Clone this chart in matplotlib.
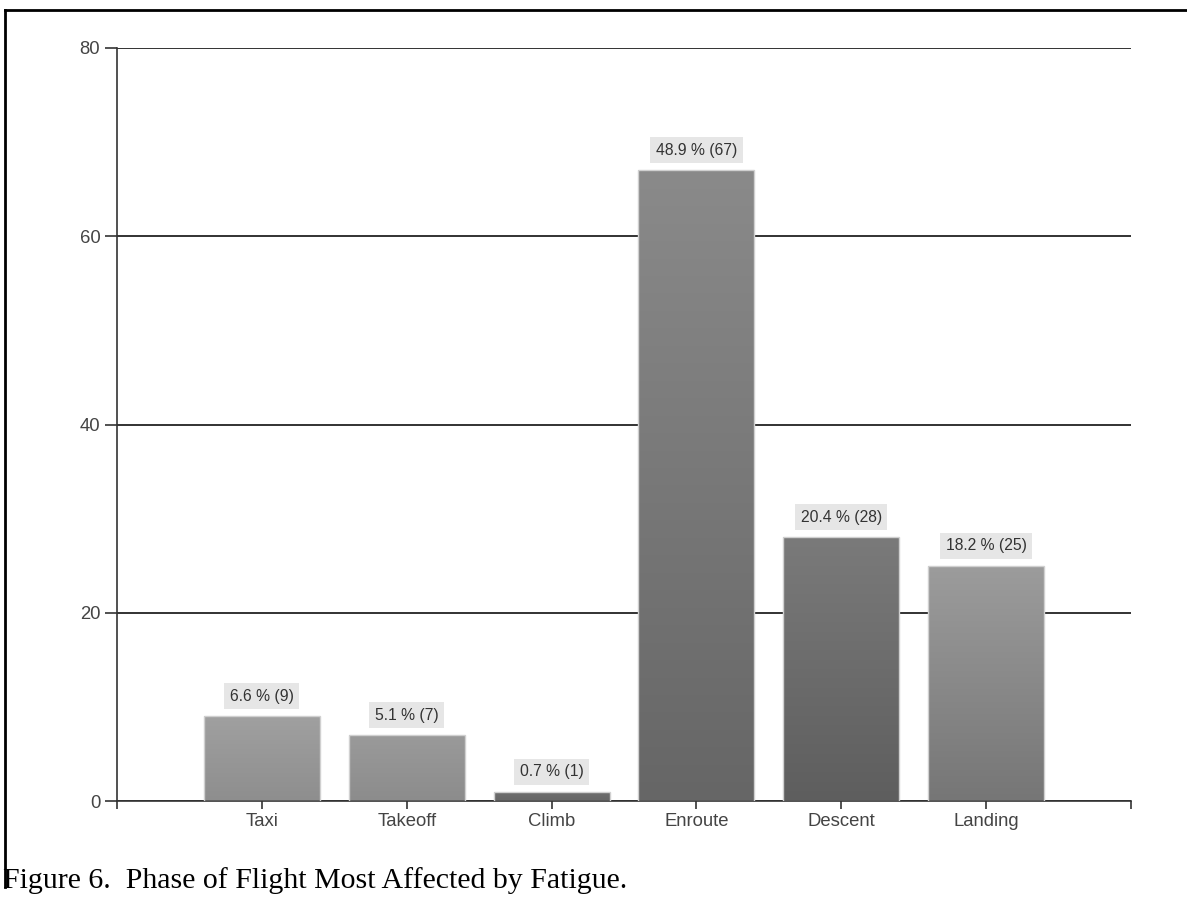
import matplotlib.pyplot as plt
import numpy as np
from matplotlib.lines import Line2D
from matplotlib.colors import LinearSegmentedColormap

phases = ['Taxi', 'Takeoff', 'Climb', 'Enroute', 'Descent', 'Landing']
counts = [9, 7, 1, 67, 28, 25]
percents = [6.6, 5.1, 0.7, 48.9, 20.4, 18.2]
# top / bottom shade of each bar's vertical gradient
top_shades = ['#a0a0a0', '#9a9a9a', '#6e6e6e', '#8a8a8a', '#7a7a7a', '#9c9c9c']
bottom_shades = ['#8e8e8e', '#8c8c8c', '#666666', '#666666', '#5e5e5e', '#767676']

plt.rcParams['font.family'] = ['Liberation Sans', 'DejaVu Sans']

fig = plt.figure(figsize=(11.87, 9.07), dpi=100)
ax = fig.add_axes([117/1187, 1 - 801/907, (1131 - 117)/1187, (801 - 48)/907])

x = np.arange(1, len(phases) + 1)
width = 0.8
grad = np.linspace(1, 0, 256).reshape(-1, 1)

for xi, c, p, t, b in zip(x, counts, percents, top_shades, bottom_shades):
    bar = ax.bar(xi, c, width=width, color='none', edgecolor='#d0d0d0',
                 linewidth=1, zorder=3)[0]
    cmap = LinearSegmentedColormap.from_list('g', [b, t])
    im = ax.imshow(grad, cmap=cmap, aspect='auto', zorder=2.5,
                   extent=(xi - width/2, xi + width/2, 0, c), origin='upper')
    im.set_clip_path(bar)
    ax.annotate(f'{p} % ({c})', xy=(xi, c), xytext=(0, 9),
                textcoords='offset points', ha='center', va='bottom',
                fontsize=11.3, color='#333333',
                bbox=dict(boxstyle='square,pad=0.35', fc='#e6e6e6', ec='none'))

ax.set_xlim(0, 7)
ax.set_ylim(0, 80)
ax.set_xticks(range(0, 8))
ax.set_xticklabels([''] + phases + [''])
ax.set_yticks([0, 20, 40, 60, 80])
ax.tick_params(axis='both', labelsize=13.3, labelcolor='#444444',
               color='#333333', width=1.2)
ax.tick_params(axis='x', length=6, pad=3)
ax.tick_params(axis='y', length=9, pad=3)
ax.grid(axis='y', color='#222222', linewidth=1.3, zorder=0)
ax.set_axisbelow(True)
for side in ['top', 'right']:
    ax.spines[side].set_visible(False)
for side in ['left', 'bottom']:
    ax.spines[side].set_color('#333333')
    ax.spines[side].set_linewidth(1.2)

# frame lines along the top and left of the figure cell
fig.add_artist(Line2D([5/1187, 1], [1 - 10/907, 1 - 10/907],
                      transform=fig.transFigure, color='black', linewidth=2))
fig.add_artist(Line2D([5/1187, 5/1187], [1 - 887/907, 1 - 10/907],
                      transform=fig.transFigure, color='black', linewidth=2))

fig.text(3/1187, 1 - 888/907, 'Figure 6.  Phase of Flight Most Affected by Fatigue.',
         fontsize=21.5, family=['Liberation Serif', 'DejaVu Serif'],
         ha='left', va='baseline', color='black')

fig.savefig('out.png', dpi=100)
